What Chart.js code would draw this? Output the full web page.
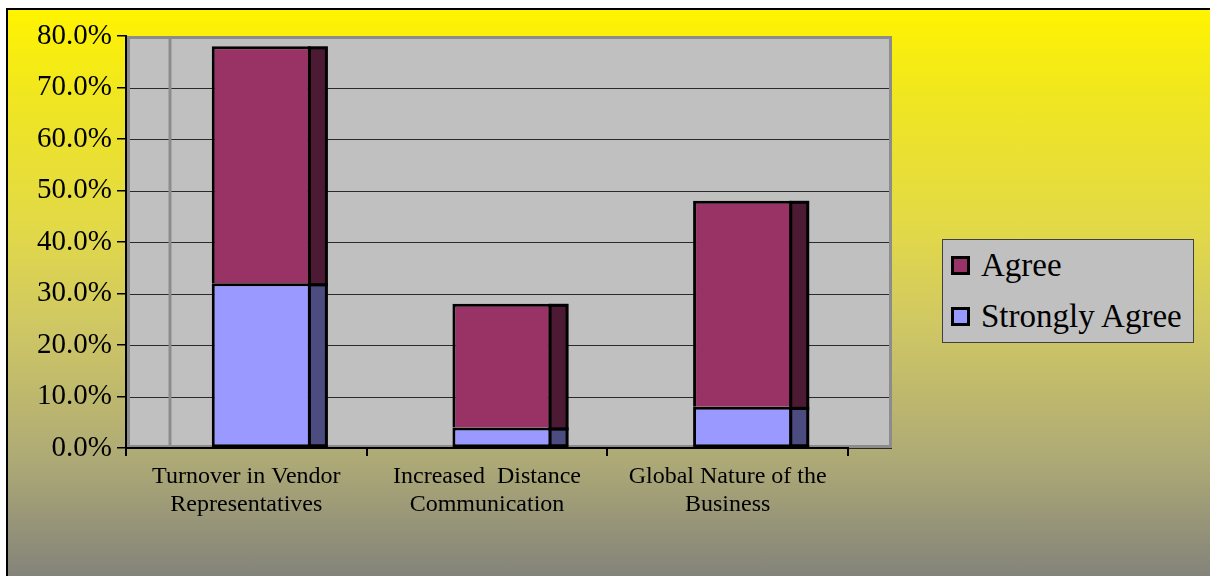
<!DOCTYPE html>
<html>
<head>
<meta charset="utf-8">
<title>Encuesta</title>
<script src="https://cdn.jsdelivr.net/npm/chart.js@4.4.0/dist/chart.umd.min.js"></script>
<style>
  html, body { margin: 0; padding: 0; background: #fff; overflow: hidden; }
  #marco {
    position: absolute; left: 6px; top: 8px; width: 1210px; height: 576px;
    border-left: 2px solid #000; border-top: 2px solid #000;
    background: linear-gradient(to bottom, #fff400 0%, #f0e620 15%, #e2d948 38%, #cfc764 55%, #aeaa76 78%, #80807a 100%);
  }
  #grafica { position: absolute; left: 0; top: 0; }
  #leyenda {
    position: absolute; left: 942px; top: 239px; width: 250px; height: 102px;
    background: #c0c0c0; border: 1px solid #404040;
    font-family: "Liberation Serif", "Times New Roman", serif; font-size: 33px; color: #000;
  }
  .item { height: 51px; display: flex; align-items: center; padding-left: 8px; line-height: 1; }
  .cuadro { width: 19px; height: 19px; box-sizing: border-box; border: 3px solid #000; margin-right: 11px; flex: none; }
</style>
</head>
<body>
<div id="marco"></div>
<canvas id="grafica" width="1210" height="576"></canvas>
<div id="leyenda"></div>
<script>
// datos de la encuesta (porcentajes)
var categorias = [['Turnover in Vendor', 'Representatives'], ['Increased  Distance', 'Communication'], ['Global Nature of the', 'Business']];
var muyDeAcuerdo = [32, 4, 8];
var deAcuerdo = [46, 24, 40];
var marcasY = [0, 10, 20, 30, 40, 50, 60, 70, 80];

var PROFUNDIDAD = 44;   // fondo 3D detras de las barras
var DESPLAZAR = 15;     // corrimiento de las barras por la perspectiva
var LADO = 17;          // ancho de la cara lateral

var fuente = '"Liberation Serif", "Times New Roman", serif';

// pared gris con lineas de division
var fondoPlugin = {
  id: 'fondo',
  beforeDraw: function(chart) {
    var ctx = chart.ctx;
    var a = chart.chartArea;
    var escalaY = chart.scales.y;
    var der = a.right + PROFUNDIDAD;
    ctx.save();
    ctx.fillStyle = '#c0c0c0';
    ctx.fillRect(a.left, a.top, der - a.left, a.bottom - a.top);
    ctx.strokeStyle = '#2a2a2a';
    ctx.lineWidth = 1;
    escalaY.ticks.forEach(function(t) {
      var py = Math.round(escalaY.getPixelForValue(t.value)) + 0.5;
      ctx.beginPath();
      ctx.moveTo(a.left, py);
      ctx.lineTo(der, py);
      ctx.stroke();
    });
    ctx.strokeStyle = '#8c8c8c';
    ctx.lineWidth = 3;
    ctx.strokeRect(a.left + 2.5, a.top + 1.5, der - a.left - 4, a.bottom - a.top - 3);
    ctx.beginPath();
    ctx.moveTo(a.left + PROFUNDIDAD, a.top);
    ctx.lineTo(a.left + PROFUNDIDAD, a.bottom);
    ctx.stroke();
    ctx.restore();
  },
  beforeDatasetsDraw: function(chart) {
    chart.ctx.save();
    chart.ctx.translate(DESPLAZAR, 0);
  },
  afterDatasetsDraw: function(chart) {
    var ctx = chart.ctx;
    // caras laterales oscuras
    chart.data.datasets.forEach(function(ds, i) {
      var meta = chart.getDatasetMeta(i);
      meta.data.forEach(function(barra) {
        var p = barra.getProps(['x', 'y', 'base', 'width'], true);
        var x0 = p.x + p.width / 2 - 1.5;
        var arriba = p.y + 1.5;
        var abajo = p.base + (i === 0 ? -1.5 : 1.5);
        ctx.fillStyle = ds.colorLado;
        ctx.fillRect(x0, arriba, LADO, abajo - arriba);
        ctx.strokeStyle = '#000';
        ctx.lineWidth = 3;
        ctx.strokeRect(x0, arriba, LADO, abajo - arriba);
      });
    });
    ctx.restore();
  }
};

var ctx = document.getElementById('grafica').getContext('2d');
var chart = new Chart(ctx, {
  type: 'bar',
  data: {
    labels: categorias,
    datasets: [{
      label: 'Strongly Agree',
      data: muyDeAcuerdo,
      backgroundColor: '#9999ff',
      colorLado: '#4c4c80',
      borderColor: '#000',
      borderWidth: 3,
      borderSkipped: false,
      clip: false
    }, {
      label: 'Agree',
      data: deAcuerdo,
      backgroundColor: '#993366',
      colorLado: '#4d1a33',
      borderColor: '#000',
      borderWidth: 3,
      clip: false
    }]
  },
  options: {
    responsive: false,
    animation: false,
    devicePixelRatio: 1,
    categoryPercentage: 1,
    barPercentage: 0.412,
    layout: { padding: { left: 0, top: 36, right: 362, bottom: 28 } },
    plugins: {
      legend: { display: false },
      tooltip: { enabled: false }
    },
    scales: {
      x: {
        stacked: true,
        offset: true,
        grid: { offset: true, drawOnChartArea: false, drawTicks: true, tickLength: 8, color: '#000', lineWidth: 2 },
        border: { color: '#000', width: 2 },
        ticks: { color: '#000', font: { family: fuente, size: 24 }, padding: 6, maxRotation: 0, autoSkip: false },
        afterFit: function(escala) { escala.height = 100; }
      },
      y: {
        stacked: true,
        min: 0,
        max: 80,
        afterBuildTicks: function(escala) {
          escala.ticks = marcasY.map(function(v) { return { value: v }; });
        },
        grid: { drawOnChartArea: false, drawTicks: true, tickLength: 9, color: '#000', lineWidth: 1.5 },
        border: { color: '#000', width: 2 },
        ticks: {
          color: '#000',
          font: { family: fuente, size: 29 },
          padding: 5,
          callback: function(v) { return Number(v).toFixed(1) + '%'; }
        },
        afterFit: function(escala) { escala.width = 126; }
      }
    }
  },
  plugins: [fondoPlugin]
});

// leyenda en html, Agree primero
var leyenda = document.getElementById('leyenda');
chart.data.datasets.slice().reverse().forEach(function(ds) {
  var fila = document.createElement('div');
  fila.className = 'item';
  var cuadro = document.createElement('span');
  cuadro.className = 'cuadro';
  cuadro.style.background = ds.backgroundColor;
  var texto = document.createElement('span');
  texto.textContent = ds.label;
  fila.appendChild(cuadro);
  fila.appendChild(texto);
  leyenda.appendChild(fila);
});
</script>
</body>
</html>
